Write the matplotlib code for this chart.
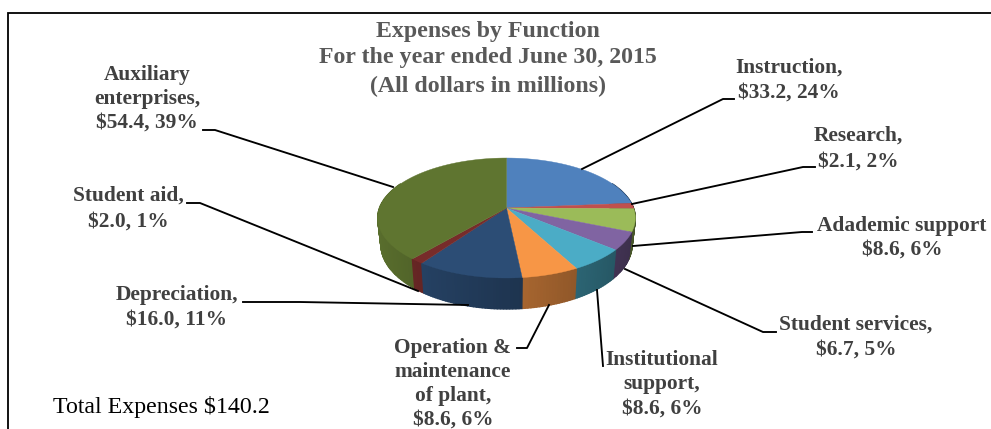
import numpy as np
import matplotlib
matplotlib.use('Agg')
import matplotlib.pyplot as plt
from matplotlib.colors import to_rgb

plt.rcParams['font.family'] = ['Liberation Serif', 'DejaVu Serif']

# values, $ millions, clockwise from 12 o'clock
categories = [['Instruction,'], ['Research,'], ['Adademic support'], ['Student services,'],
              ['Institutional', 'support,'], ['Operation &', 'maintenance', 'of plant,'],
              ['Depreciation,'], ['Student aid,'], ['Auxiliary', 'enterprises,']]
amounts = [33.2, 2.1, 8.6, 6.7, 8.6, 8.6, 16.0, 2.0, 54.4]
percents = [24, 2, 6, 5, 6, 6, 11, 1, 39]
colors = ['#4f81bd', '#c0504d', '#9bbb59', '#8064a2', '#4bacc6', '#f79646', '#2c4d75', '#772c2a', '#5f7530']

title_lines = ['Expenses by Function', 'For the year ended June 30, 2015', '(All dollars in millions)']
total_text = 'Total Expenses $140.2'

# label placement in pixels: centre x, y of first line
label_pos = [(789, 68), (858, 136), (902, 226), (856, 325), (662, 360),
             (453, 348), (177, 295), (128, 196), (147, 75)]
line_steps = [25, 26, 24, 25, 24.5, 24, 25, 26, 24]
leaders = [[(582, 169), (723, 99), (734, 99)],
           [(632, 204), (803, 167), (815, 167)],
           [(633, 246), (802, 232), (812, 232)],
           [(625, 269), (763, 332), (776, 332)],
           [(597, 290), (603, 366)],
           [(549, 305), (527, 348), (517, 348)],
           [(468, 305), (300, 302), (243, 302)],
           [(418, 291), (200, 203), (187, 203)],
           [(393, 187), (215, 130), (203, 130)]]

# pie geometry with a little perspective
cx, ay = 506.5, 208
rx, ry = 127, 58.3
k = 1 / 6
depth = 31
taper = 0.975


def project(angle):
    u, v = np.sin(angle), -np.cos(angle)
    p = 1 / (1 - k * v)
    return cx + rx * u * p, ay + ry * v * p, p


fig = plt.figure(figsize=(9.91, 4.29), dpi=100)
ax = fig.add_axes([0, 0, 1, 1])
ax.set_xlim(0, 991)
ax.set_ylim(429, 0)
ax.axis('off')

edges = np.concatenate([[0], np.cumsum(amounts)]) / sum(amounts) * 2 * np.pi

# side wall, back to front, the top faces hide the far part
quads = []
for i, c in enumerate(colors):
    steps = max(int((edges[i + 1] - edges[i]) / 0.02), 1)
    ts = np.linspace(edges[i], edges[i + 1], steps + 1)
    for a, b in zip(ts[:-1], ts[1:]):
        mid = (a + b) / 2
        if -np.cos(mid) < -0.45:
            continue
        quads.append((-np.cos(mid), a, b, c))
quads.sort(key=lambda q: q[0])
for _, a, b, c in quads:
    xa, ya, pa = project(a)
    xb, yb, pb = project(b)
    shade = np.clip(0.7 - 0.25 * np.sin((a + b) / 2), 0, 1)
    col = tuple(np.array(to_rgb(c)) * shade)
    ax.fill([xa, xb, cx + (xb - cx) * taper, cx + (xa - cx) * taper],
            [ya, yb, yb + depth * pb / 1.2, ya + depth * pa / 1.2],
            facecolor=col, edgecolor=col, lw=1.0, zorder=2)

# top faces
for i, c in enumerate(colors):
    ts = np.linspace(edges[i], edges[i + 1], 80)
    xs, ys, _ = project(ts)
    ax.fill(np.r_[cx, xs], np.r_[ay, ys], facecolor=c, edgecolor=c, lw=0.3, zorder=3)

# leader lines
for pts in leaders:
    xs, ys = zip(*pts)
    ax.plot(xs, ys, color='black', lw=1.35, solid_joinstyle='round', zorder=4)

# data labels
label_font = dict(fontsize=15.4, fontweight='bold', color='#404040', ha='center', va='center')
for name, amt, pct, (x, y), step in zip(categories, amounts, percents, label_pos, line_steps):
    lines = name + ['${:.1f}, {}%'.format(amt, pct)]
    for j, line in enumerate(lines):
        ax.text(x, y + j * step, line, **label_font)

# title
for y, line in zip([32, 58, 86], title_lines):
    ax.text(487.5, y, line, fontsize=17.2, fontweight='bold', color='#595959', ha='center', va='center')

ax.text(53, 407, total_text, fontsize=17.2, color='black', ha='left', va='center')

# chart frame, cut by the crop on the right and bottom
ax.plot([8, 8, 991], [429, 12.5, 12.5], color='black', lw=1.3, solid_joinstyle='miter', clip_on=False)

fig.savefig('out.png', dpi=100)
